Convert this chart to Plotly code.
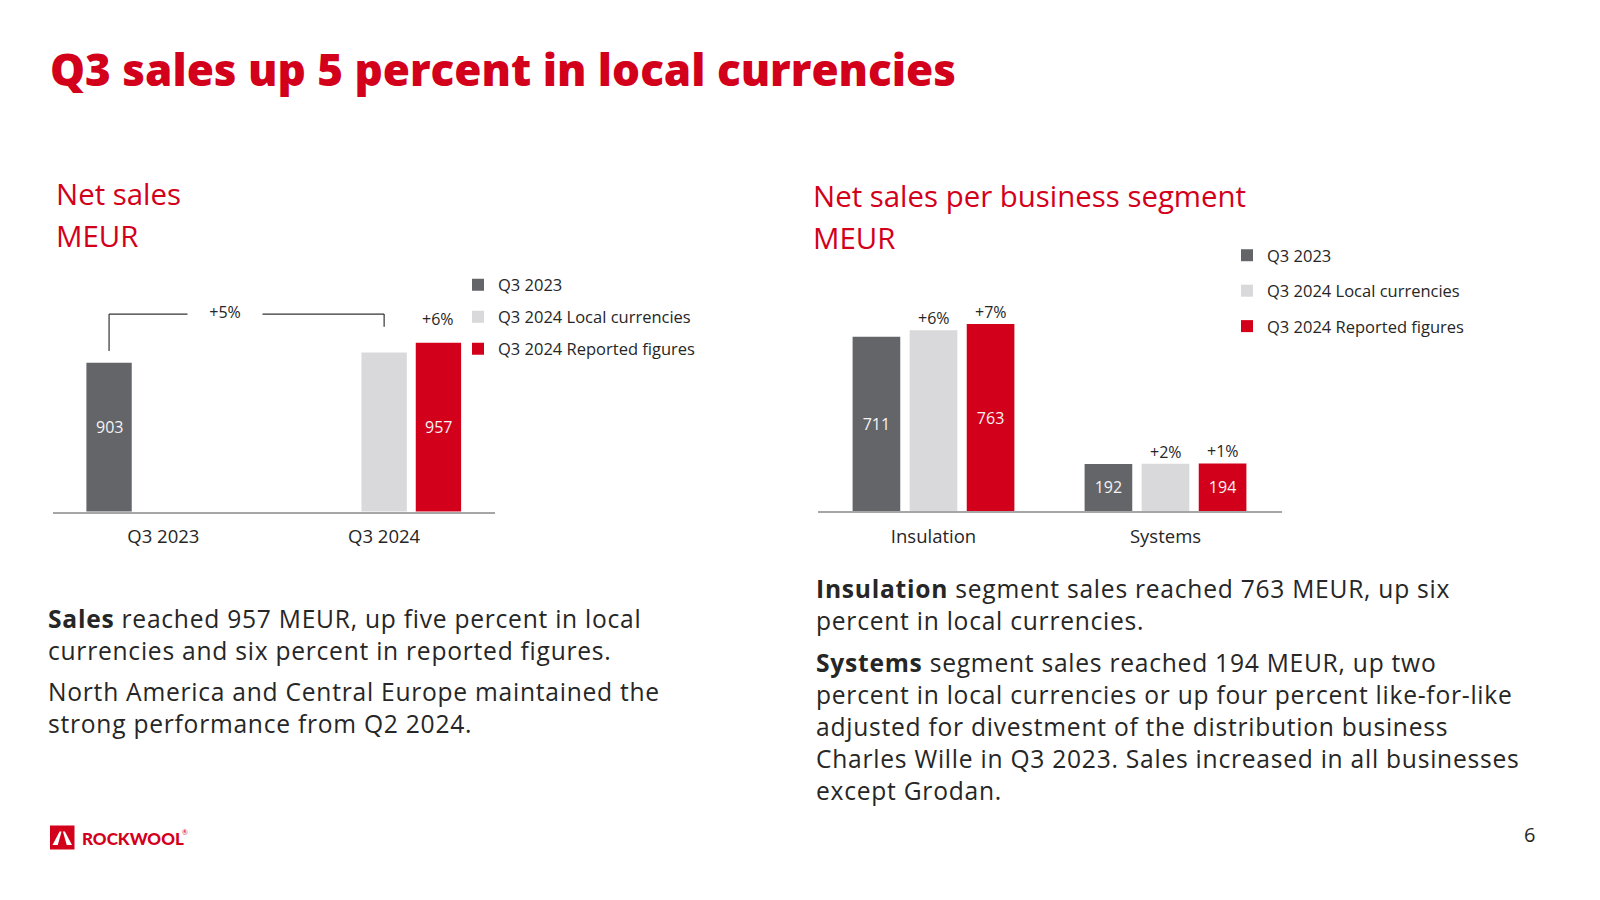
import plotly.graph_objects as go

W, H = 1600, 900


def px(x):
    return x / W


def py(y):
    return 1 - y / H


# ---------------- data ----------------
series_names = ["Q3 2023", "Q3 2024 Local currencies", "Q3 2024 Reported figures"]

left_categories = ["Q3 2023", "Q3 2024"]
left_q3_2023 = [903, None]
left_q3_2024_local = [None, 931]
left_q3_2024_reported = [None, 957]
left_reported_growth = [None, "+6%"]
left_local_growth_total = "+5%"

right_categories = ["Insulation", "Systems"]
right_q3_2023 = [711, 192]
right_q3_2024_local = [738, 193]
right_q3_2024_reported = [763, 194]
right_local_growth = ["+6%", "+2%"]
right_reported_growth = ["+7%", "+1%"]

# ---------------- style ----------------
FONT = "Open Sans"
RED = "#d3001b"
TXT = "#262626"
COLORS = ["#636569", "#d9d9db", RED]
BARGAP = 0.262
BARGROUPGAP = 0.165
SLOT = (1 - BARGAP) / 3           # width of one bar slot, in category units
LEFT_Y_MIN = 500
LEFT_LABEL_LEVEL = 730
BRACKET_TOP = 1035
BRACKET_LEFT_END = 935
BRACKET_RIGHT_END = 1001
BRACKET_LABEL_X = 0.28
CHART_FS = 16
LEGEND_FS = 16.5
TICK_FS = 18.5
BODY_FS = 24.6
BODY_TRACKING = "0.75px"

fig = go.Figure()

left_series = [left_q3_2023, left_q3_2024_local, left_q3_2024_reported]
right_series = [right_q3_2023, right_q3_2024_local, right_q3_2024_reported]

for k, (name, vals) in enumerate(zip(series_names, left_series)):
    fig.add_trace(go.Bar(
        x=left_categories, y=vals, name=name, marker=dict(color=COLORS[k], line=dict(width=0)),
        xaxis="x", yaxis="y", legend="legend", legendgroup=f"l{k}",
        hoverinfo="x+y+name",
    ))

for k, (name, vals) in enumerate(zip(series_names, right_series)):
    bar = dict(
        x=right_categories, y=vals, name=name, marker=dict(color=COLORS[k], line=dict(width=0)),
        xaxis="x2", yaxis="y2", legend="legend2", legendgroup=f"r{k}",
        hoverinfo="x+y+name",
    )
    if k != 1:
        bar.update(text=[str(v) for v in vals], textposition="inside", insidetextanchor="middle",
                   textfont=dict(family=FONT, size=CHART_FS, color="#f4f4f4"))
    fig.add_trace(go.Bar(**bar))

annotations = []
shapes = []

# left chart value labels (inside bars, at a common level)
for k, vals in enumerate(left_series):
    if k == 1:
        continue
    for i, v in enumerate(vals):
        if v is None:
            continue
        annotations.append(dict(
            x=i + (k - 1) * SLOT, y=LEFT_LABEL_LEVEL, xref="x", yref="y",
            text=str(v), showarrow=False, font=dict(family=FONT, size=CHART_FS, color="#f4f4f4"),
        ))

# left chart growth label for reported
for i, g in enumerate(left_reported_growth):
    if g is None:
        continue
    annotations.append(dict(
        x=i + SLOT, y=left_q3_2024_reported[i], xref="x", yref="y", yanchor="middle",
        yshift=24, text=g, showarrow=False, font=dict(family=FONT, size=CHART_FS, color=TXT),
    ))

# bracket from Q3 2023 bar to Q3 2024 local bar
x_a = 0 - SLOT
x_b = 1
line_style = dict(color="#333333", width=1.2)
shapes += [
    dict(type="line", xref="x", yref="y", x0=x_a, x1=x_a, y0=BRACKET_LEFT_END, y1=BRACKET_TOP, line=line_style),
    dict(type="line", xref="x", yref="y", x0=x_a, x1=x_b, y0=BRACKET_TOP, y1=BRACKET_TOP, line=line_style),
    dict(type="line", xref="x", yref="y", x0=x_b, x1=x_b, y0=BRACKET_TOP, y1=BRACKET_RIGHT_END, line=line_style),
]
annotations.append(dict(
    x=BRACKET_LABEL_X, y=BRACKET_TOP, xref="x", yref="y", text=left_local_growth_total,
    showarrow=False, bgcolor="white", width=72, yshift=2,
    font=dict(family=FONT, size=CHART_FS, color=TXT),
))

# right chart growth labels
for i in range(len(right_categories)):
    annotations.append(dict(
        x=i, y=right_q3_2024_local[i], xref="x2", yref="y2", yanchor="middle", yshift=12,
        text=right_local_growth[i], showarrow=False, font=dict(family=FONT, size=CHART_FS, color=TXT),
    ))
    annotations.append(dict(
        x=i + SLOT, y=right_q3_2024_reported[i], xref="x2", yref="y2", yanchor="middle", yshift=12,
        text=right_reported_growth[i], showarrow=False, font=dict(family=FONT, size=CHART_FS, color=TXT),
    ))


def text_ann(x, y, text, size, color=TXT, xanchor="left", yanchor="middle", weight=None,
             family=FONT):
    f = dict(family=family, size=size, color=color)
    if weight:
        f["weight"] = weight
    annotations.append(dict(
        x=px(x), y=py(y), xref="paper", yref="paper", xanchor=xanchor, yanchor=yanchor,
        text=text, showarrow=False, align="left", font=f,
    ))


def paragraph(x, y_center, lines, size=BODY_FS):
    text = "<br>".join(f"<span style='letter-spacing:{BODY_TRACKING}'>{ln}</span>" for ln in lines)
    text_ann(x, y_center, text, size)


# title & subtitles
text_ann(48, 69, "Q3 sales up 5 percent in local currencies", 44, RED, weight=800)
text_ann(54, 194, "Net sales", 29.4, RED)
text_ann(54, 236, "MEUR", 29.4, RED)
text_ann(811, 196, "Net sales per business segment", 29.4, RED)
text_ann(811, 238, "MEUR", 29.4, RED)

# body text
paragraph(46, 634, ["<b>Sales</b> reached 957 MEUR, up five percent in local",
                    "currencies and six percent in reported figures."])
paragraph(46, 707.5, ["North America and Central Europe maintained the",
                      "strong performance from Q2 2024."])
paragraph(814, 604.5, ["<b>Insulation</b> segment sales reached 763 MEUR, up six",
                       "percent in local currencies."])
paragraph(814, 726, ["<b>Systems</b> segment sales reached 194 MEUR, up two",
                     "percent in local currencies or up four percent like-for-like",
                     "adjusted for divestment of the distribution business",
                     "Charles Wille in Q3 2023. Sales increased in all businesses",
                     "except Grodan."])

# page number
text_ann(1529, 834, "6", 20, xanchor="center")

# logo
shapes.append(dict(type="rect", xref="paper", yref="paper", x0=px(50), x1=px(74.5), y0=py(849.5),
                   y1=py(825.5), fillcolor=RED, line=dict(width=0), layer="above"))


def poly(points):
    return "M " + " L ".join(f"{px(a):.5f},{py(b):.5f}" for a, b in points) + " Z"


shapes.append(dict(type="path", xref="paper", yref="paper", layer="above",
                   path=poly([(52.5, 845), (59.6, 831.5), (61.6, 831.5), (57.8, 845)]),
                   fillcolor="white", line=dict(width=0)))
shapes.append(dict(type="path", xref="paper", yref="paper", layer="above",
                   path=poly([(72.0, 845), (64.9, 831.5), (62.9, 831.5), (66.7, 845)]),
                   fillcolor="white", line=dict(width=0)))
text_ann(80, 838, "ROCKWOOL", 17, RED, weight=900, family="Lato")
text_ann(180, 832, "®", 7, RED, family="Lato")

axis_common = dict(showgrid=False, zeroline=False, fixedrange=True)
xaxis_common = dict(
    **axis_common, type="category", showline=True, linecolor="#a6a6a6", linewidth=1.5,
    ticks="outside", ticklen=8, tickcolor="rgba(0,0,0,0)",
    tickfont=dict(family=FONT, size=TICK_FS, color=TXT), range=[-0.5, 1.5],
)

fig.update_layout(
    width=W, height=H, autosize=False,
    margin=dict(l=0, r=0, t=0, b=0),
    paper_bgcolor="white", plot_bgcolor="white",
    font=dict(family=FONT, color=TXT),
    barmode="group", bargap=BARGAP, bargroupgap=BARGROUPGAP,
    xaxis=dict(**xaxis_common, domain=[px(53), px(494.5)], anchor="y"),
    yaxis=dict(**axis_common, visible=False, domain=[py(511.5), py(300)],
               range=[LEFT_Y_MIN, LEFT_Y_MIN + (511.5 - 300) / 0.369], anchor="x"),
    xaxis2=dict(**xaxis_common, domain=[px(817.5), px(1281.5)], anchor="y2"),
    yaxis2=dict(**axis_common, visible=False, domain=[py(511), py(300)],
                range=[0, (511 - 300) / 0.245], anchor="x2"),
    legend=dict(x=px(458), y=py(267.5), xanchor="left", yanchor="top",
                font=dict(family=FONT, size=LEGEND_FS, color=TXT), tracegroupgap=7.5,
                bgcolor="rgba(0,0,0,0)", borderwidth=0),
    legend2=dict(x=px(1227), y=py(238), xanchor="left", yanchor="top",
                 font=dict(family=FONT, size=LEGEND_FS, color=TXT), tracegroupgap=11,
                 bgcolor="rgba(0,0,0,0)", borderwidth=0),
    annotations=annotations,
    shapes=shapes,
    showlegend=True,
)

fig.write_html("out.html", config={"displayModeBar": False})
